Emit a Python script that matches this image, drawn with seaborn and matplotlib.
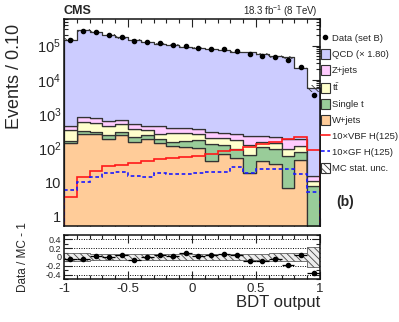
import numpy as np
import pandas as pd
import matplotlib
matplotlib.use("Agg")
import matplotlib.pyplot as plt
import seaborn as sns
from matplotlib.patches import Patch
from matplotlib.lines import Line2D
from matplotlib.ticker import FixedLocator, MultipleLocator, LogLocator, NullFormatter

# ---------------- data ----------------
bin_edges = [round(-1.0 + 0.1 * i, 2) for i in range(21)]
processes = ["QCD (\u00d7 1.80)", "Z+jets", "$\\mathrm{t\\bar{t}}$", "Single t", "W+jets"]
colors = ["#ccccff", "#ffccff", "#ffffcc", "#99cc99", "#ffcc99"]

wjets   = [140, 260, 255, 190, 238, 150, 190, 140, 117, 110, 102, 41, 65, 50, 18.6, 43, 33, 6.6, 45, 0.05]
singlet = [18, 53, 45, 53, 52, 58, 48, 50, 31, 55, 68, 93, 58, 45, 46, 64, 59, 51, 30, 7.5]
ttbar   = [190, 267, 250, 197, 200, 162, 100, 76, 137, 105, 87, 69, 80, 75, 58, 47, 51, 34, 40, 3.0]
zjets   = [90, 210, 210, 160, 160, 120, 102, 184, 105, 110, 103, 94, 82, 85, 105, 74, 70, 89, 75, 4.5]
total_mc = [1.5e5, 2.8e5, 2.45e5, 2.05e5, 1.73e5, 1.5e5, 1.3e5, 1.15e5, 1.04e5, 9.1e4,
            8.3e4, 7.7e4, 7.2e4, 6.7e4, 6.3e4, 5.5e4, 4.8e4, 4.5e4, 2.2e4, 5.7e3]
vbf10 = [3.6, 14, 21, 29, 32, 36, 43, 47, 52, 56, 60, 66, 80, 87, 110, 130, 150, 190, 210, 90]
gf10  = [6, 10, 14.5, 19, 20, 15.5, 14.5, 19, 17.5, 17, 18.5, 19.5, 20.5, 27, 18, 25, 25, 25, 17, 5]
ratio = [-0.044, -0.04, 0.02, -0.01, 0.05, -0.07, 0.01, 0.045, 0.03, 0.10,
         0.02, 0.04, 0.07, 0.05, -0.10, -0.10, -0.04, -0.18, 0.045, -0.37]
mc_unc = [0.09, 0.09, 0.075, 0.075, 0.075, 0.06, 0.06, 0.06, 0.06, 0.06,
          0.06, 0.06, 0.06, 0.06, 0.06, 0.07, 0.08, 0.08, 0.08, 0.22]

# ---------------- style ----------------
sns.set_style("ticks")
plt.rcParams["font.family"] = ["Liberation Sans", "DejaVu Sans"]
plt.rcParams["mathtext.fontset"] = "custom"
plt.rcParams["mathtext.rm"] = "Liberation Sans"
plt.rcParams["mathtext.it"] = "Liberation Sans:italic"
plt.rcParams["mathtext.bf"] = "Liberation Sans:bold"
plt.rcParams["hatch.linewidth"] = 0.6
plt.rcParams["hatch.color"] = "#333333"

edges = np.array(bin_edges)
centers = 0.5 * (edges[:-1] + edges[1:])
tot = np.array(total_mc)
nonqcd = np.array(wjets) + np.array(singlet) + np.array(ttbar) + np.array(zjets)
qcd = tot - nonqcd
comp = {processes[0]: qcd, processes[1]: zjets, processes[2]: ttbar,
        processes[3]: singlet, processes[4]: wjets}
rows = []
for p in processes:
    for c, v in zip(centers, comp[p]):
        rows.append({"x": float(c), "w": float(v), "process": p})
df = pd.DataFrame(rows)

W, H = 399, 322
fig = plt.figure(figsize=(W / 100, H / 100), dpi=100)
ax = fig.add_axes([64 / W, 1 - 225.5 / H, 256 / W, 206.5 / H])
axr = fig.add_axes([64 / W, 1 - 279 / H, 256 / W, 44 / H])

sns.histplot(data=df, x="x", weights="w", hue="process", hue_order=processes,
             multiple="stack", bins=bin_edges, element="step", fill=True,
             palette=colors, edgecolor="#333333", linewidth=0.9, alpha=1,
             legend=False, ax=ax)
ax.set_yscale("log")

# MC stat band on the main panel
unc = np.array(mc_unc)
lo = tot * (1 - unc)
hi = tot * (1 + unc)
ax.fill_between(edges, np.append(lo, lo[-1]), np.append(hi, hi[-1]), step="post",
                facecolor="none", edgecolor="#333333", hatch="\\\\\\\\\\", linewidth=0)

ax.stairs(vbf10, edges, color="#ff1a1a", linewidth=1.2)
ax.stairs(gf10, edges, color="#1a1aff", linewidth=1.2, linestyle=(0, (2.2, 1.6)))

data = tot * (1 + np.array(ratio))
ax.errorbar(centers, data, yerr=np.sqrt(data), fmt="o", ms=3, color="black",
            elinewidth=0.8, capsize=0, zorder=5)

ax.set_xlim(-1, 1)
ax.set_ylim(0.54, 6.0e5)
ax.set_xlabel("")
ax.set_ylabel("Events / 0.10", fontsize=13, labelpad=2)
ax.yaxis.set_label_coords(-0.16, 0.72)
ax.yaxis.set_major_locator(FixedLocator([1, 10, 100, 1e3, 1e4, 1e5]))
ax.yaxis.set_minor_locator(LogLocator(base=10, subs=np.arange(2, 10), numticks=20))
ax.yaxis.set_minor_formatter(NullFormatter())
ax.set_yticklabels(["1", "10", "$10^{2}$", "$10^{3}$", "$10^{4}$", "$10^{5}$"])
ax.xaxis.set_major_locator(MultipleLocator(0.5))
ax.xaxis.set_minor_locator(MultipleLocator(0.1))
ax.tick_params(axis="x", labelbottom=False)
for a in (ax, axr):
    a.tick_params(which="both", direction="in", top=True, right=True, width=0.8, color="#222222")
    a.tick_params(which="major", length=6)
    a.tick_params(which="minor", length=3)
    for s in a.spines.values():
        s.set_linewidth(1.1)
        s.set_color("#111111")
ax.tick_params(axis="y", labelsize=10.5, pad=2)

# ---------------- ratio panel ----------------
for yv in (0.4, 0.2, 0.0, -0.2, -0.4):
    axr.axhline(yv, color="black", linestyle=(0, (1, 1.5)), linewidth=0.7, zorder=0)
axr.fill_between(edges, np.append(-unc, -unc[-1]), np.append(unc, unc[-1]), step="post",
                 facecolor="#ececec", edgecolor="#444444", hatch="\\\\\\\\\\", linewidth=0.5,
                 zorder=1)
axr.errorbar(centers, ratio, xerr=0.05, yerr=0.015, fmt="o", ms=3, color="black",
             elinewidth=0.9, capsize=0, zorder=5)
axr.set_xlim(-1, 1)
axr.set_ylim(-0.5, 0.5)
axr.set_yticks([-0.4, -0.2, 0, 0.2, 0.4])
axr.set_yticklabels(["-0.4", "-0.2", "0", "0.2", "0.4"])
axr.yaxis.set_minor_locator(MultipleLocator(0.1))
axr.set_xticks([-1, -0.5, 0, 0.5, 1])
axr.set_xticklabels(["-1", "-0.5", "0", "0.5", "1"])
axr.xaxis.set_minor_locator(MultipleLocator(0.1))
axr.tick_params(axis="y", labelsize=6.5, pad=2)
axr.tick_params(axis="x", labelsize=9.5, pad=3)
axr.set_ylabel("Data / MC - 1", fontsize=8.5)
axr.yaxis.set_label_coords(-0.135, 0.5)
axr.set_xlabel("BDT output", fontsize=12, loc="right", labelpad=0)

# ---------------- texts ----------------
fig.text(64 / W, 1 - 11 / H, "CMS", fontsize=9, fontweight="bold", va="center", ha="left")
fig.text(318 / W, 1 - 11 / H, "18.3 fb$^{-1}$ (8 TeV)", fontsize=7, va="center", ha="right")
fig.text(336 / W, 1 - 202 / H, "(b)", fontsize=10, fontweight="bold", va="center", ha="left")

handles = [
    Line2D([], [], marker="o", color="black", linestyle="none", markersize=3),
    Patch(facecolor=colors[0], edgecolor="#333333", linewidth=0.8),
    Patch(facecolor=colors[1], edgecolor="#333333", linewidth=0.8),
    Patch(facecolor=colors[2], edgecolor="#333333", linewidth=0.8),
    Patch(facecolor=colors[3], edgecolor="#333333", linewidth=0.8),
    Patch(facecolor=colors[4], edgecolor="#333333", linewidth=0.8),
    Line2D([], [], color="#ff1a1a", linewidth=1.2),
    Line2D([], [], color="#1a1aff", linewidth=1.2, linestyle=(0, (2.2, 1.6))),
    Patch(facecolor="white", edgecolor="#333333", hatch="\\\\\\\\\\", linewidth=0.8),
]
labels = ["Data (set B)"] + processes + ["10\u00d7VBF H(125)", "10\u00d7GF H(125)", "MC stat. unc."]
fig.legend(handles, labels, loc="upper left", bbox_to_anchor=(321 / W, 1 - 33 / H),
           frameon=False, fontsize=6.8, handlelength=0.9, handleheight=1.25,
           handletextpad=0.25, labelspacing=0.62, borderaxespad=0, borderpad=0)

fig.savefig("out.png", dpi=100)
